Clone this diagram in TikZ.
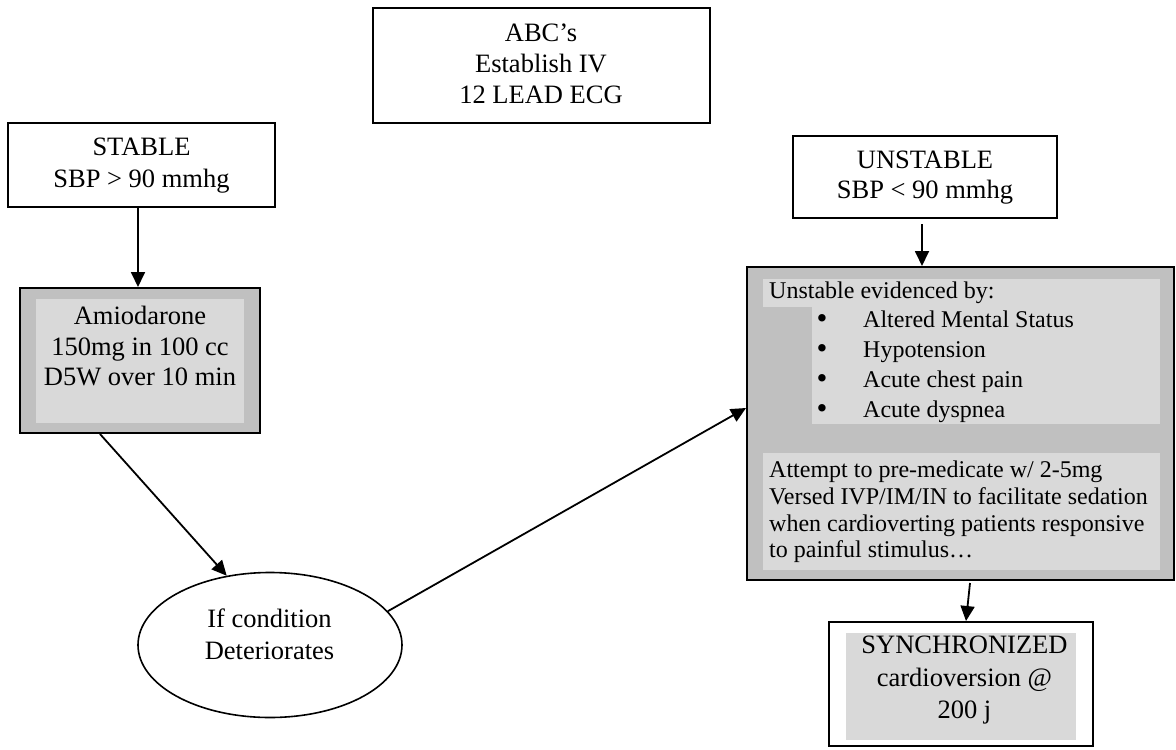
\documentclass[tikz,border=0pt]{standalone}
\usepackage{fontspec}
\setmainfont{Liberation Serif}
\usetikzlibrary{arrows.meta,shapes.geometric,calc}
\definecolor{grayA}{RGB}{192,192,192}
\definecolor{grayB}{RGB}{217,217,217}
\newcommand\smfont{\fontsize{24}{26.7}\selectfont}
\newcommand\listfont{\fontsize{24}{30}\selectfont}
\newcommand\bulfont{\fontsize{31}{31}\selectfont}
\tikzset{
  wbox/.style={draw=black, line width=2pt, fill=white, inner sep=0pt},
  gbox/.style={draw=black, line width=2pt, fill=grayA, inner sep=0pt},
  lbox/.style={draw=none, fill=grayB, inner sep=0pt},
  tx/.style={inner sep=0pt, align=center},
  txl/.style={inner sep=0pt, align=left, anchor=west},
  bul/.style={inner sep=0pt, font=\bulfont},
  arr/.style={line width=1.8pt, -{Triangle[length=15pt,width=14pt]}}
}
\begin{document}
\begin{tikzpicture}[x=1pt,y=-1pt]
\useasboundingbox (0,0) rectangle (1176,750);
% top box
\node[wbox, minimum width=337pt, minimum height=115pt] (abc) at (541.5,65.5) {};
\node[tx, font=\fontsize{26.5}{31}\selectfont] (abct) at (541,64) {ABC’s\\Establish IV\\12 LEAD ECG};
% stable
\node[wbox, minimum width=267pt, minimum height=84pt] (stable) at (141.5,165) {};
\node[tx, font=\fontsize{26.5}{32}\selectfont] (stablet) at (141.5,166) {STABLE\\SBP > 90 mmhg};
% amiodarone
\node[gbox, minimum width=240pt, minimum height=145pt] (amio) at (140,360.5) {};
\node[lbox, minimum width=208pt, minimum height=124pt] (amioin) at (140,361) {};
\node[tx, font=\fontsize{26.5}{30.5}\selectfont] (amiot) at (140,346.5) {Amiodarone\\150mg in 100 cc\\D5W over 10 min};
% condition ellipse
\node[ellipse, draw=black, line width=1.6pt, fill=white, minimum width=264pt, minimum height=145pt, inner sep=0pt] (cond) at (270,645) {};
\node[tx, font=\fontsize{26.5}{32}\selectfont] (condt) at (269.5,634) {If condition\\Deteriorates};
% unstable
\node[wbox, minimum width=264pt, minimum height=82pt] (unst) at (925,177) {};
\node[tx, font=\fontsize{26.5}{30}\selectfont] (unstt) at (925,178) {UNSTABLE\\SBP < 90 mmhg};
% big gray box
\node[gbox, minimum width=427pt, minimum height=313pt] (ubox) at (960.5,423.5) {};
\node[lbox, minimum width=397pt, minimum height=28pt] (r1) at (961.5,293) {};
\node[lbox, minimum width=348pt, minimum height=117pt] (r2) at (986,365.5) {};
\node[lbox, minimum width=397pt, minimum height=117pt] (r3) at (961.5,511.5) {};
\node[txl, font=\smfont] (ueh) at (769,293) {Unstable evidenced by:};
\node[bul] (b1) at (822,322) {•};
\node[bul] (b2) at (822,352) {•};
\node[bul] (b3) at (822,382) {•};
\node[bul] (b4) at (822,412) {•};
\node[txl, font=\listfont] (items) at (863,367) {Altered Mental Status\\Hypotension\\Acute chest pain\\Acute dyspnea};
\node[txl, font=\smfont] (pre) at (769,512) {Attempt to pre-medicate w/ 2-5mg\\Versed IVP/IM/IN to facilitate sedation\\when cardioverting patients responsive\\to painful stimulus…};
% synchronized
\node[wbox, minimum width=264pt, minimum height=124pt] (synch) at (961,684) {};
\node[lbox, minimum width=230pt, minimum height=107pt] (synchin) at (961,686.5) {};
\node[tx, font=\fontsize{26.5}{32.5}\selectfont] (syncht) at (964.5,680.5) {SYNCHRONIZED\\cardioversion @\\200 j};
% connectors
\draw[arr] ($(stable.south)+(-3.5,0)$) -- ($(amio.north)+(-2,0)$);
\draw[arr] ($(amio.south)+(-40,0)$) -- (cond.122.7);
\draw[arr] (cond.16.9) -- ($(ubox.west)+(0,-15.5)$);
\draw[arr] ($(unst.south)+(-3,5)$) -- ($(ubox.north)+(-38.5,0)$);
\draw[arr] ($(ubox.south)+(9.5,2)$) -- ($(synch.north)+(5,0)$);
\end{tikzpicture}
\end{document}
